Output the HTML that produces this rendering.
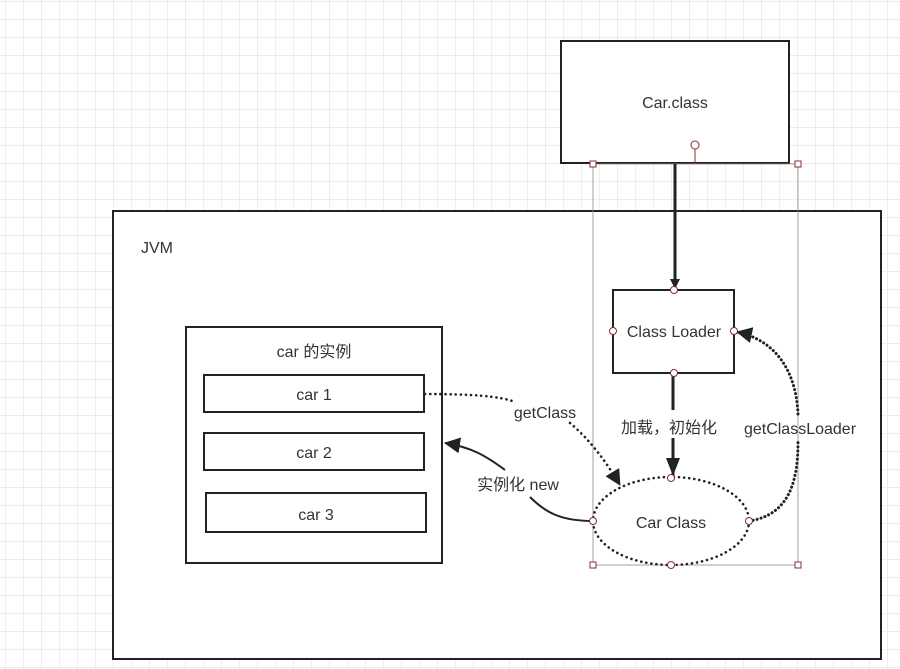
<!DOCTYPE html>
<html><head><meta charset="utf-8"><style>
html,body{margin:0;padding:0;background:#fff}
svg{display:block}
text{font-family:"Liberation Sans","Noto Sans CJK SC",sans-serif;font-size:16px;fill:#333}
</style></head><body>
<svg width="900" height="669" viewBox="0 0 900 669" xmlns="http://www.w3.org/2000/svg">
<defs>
<pattern id="g" x="5" y="1" width="18" height="18" patternUnits="userSpaceOnUse">
<path d="M0 0V18M0 0H18" stroke="#e2e2e2" stroke-width="1.2" fill="none"/>
</pattern>
<marker id="a" markerWidth="10" markerHeight="10" refX="9" refY="5" orient="auto" markerUnits="userSpaceOnUse" viewBox="0 0 10 10">
<path d="M0 0L10 5L0 10z" fill="#222"/></marker>
<marker id="b" markerWidth="16" markerHeight="16" refX="15" refY="8" orient="auto" markerUnits="userSpaceOnUse" viewBox="0 0 16 16">
<path d="M0 0L16 8L0 16z" fill="#222"/></marker>
</defs>
<rect width="900" height="669" fill="url(#g)"/>
<g fill="#fff" stroke="#222" stroke-width="2">
<rect x="113" y="211" width="768" height="448"/>
<rect x="561" y="41" width="228" height="122"/>
<rect x="613" y="290" width="121" height="83"/>
<rect x="186" y="327" width="256" height="236"/>
<rect x="204" y="375" width="220" height="37"/>
<rect x="204" y="433" width="220" height="37"/>
<rect x="206" y="493" width="220" height="39"/>
</g>
<rect x="593" y="164" width="205" height="401" fill="none" stroke="#a08080" stroke-width="0.8"/>
<ellipse cx="671" cy="521" rx="78" ry="44" fill="#fff" stroke="#222" stroke-width="2.6" stroke-dasharray="0.1 5" stroke-linecap="round"/>
<text x="675" y="108" text-anchor="middle">Car.class</text>
<text x="141" y="253">JVM</text>
<text x="674" y="337" text-anchor="middle">Class Loader</text>
<text x="314" y="357" text-anchor="middle">car 的实例</text>
<text x="314" y="400" text-anchor="middle">car 1</text>
<text x="314" y="458" text-anchor="middle">car 2</text>
<text x="316" y="520" text-anchor="middle">car 3</text>
<text x="671" y="528" text-anchor="middle">Car Class</text>
<path d="M695 149V163" stroke="#803030" stroke-width="1"/>
<path d="M675 164V288" stroke="#222" stroke-width="3" fill="none" marker-end="url(#a)"/>
<path d="M673 374V410M673 438V476" stroke="#222" stroke-width="3" fill="none"/>
<path d="M673 458L666 458L673 476L680 458z" fill="#222"/>
<text x="669" y="433" text-anchor="middle">加载，初始化</text>
<path d="M425 394C470 394 500 396 515 402" stroke="#222" stroke-width="2.6" stroke-dasharray="0.1 5" stroke-linecap="round" fill="none"/>
<path d="M570 423C590 440 605 460 620 485" stroke="#222" stroke-width="2.6" stroke-dasharray="0.1 5" stroke-linecap="round" fill="none" marker-end="url(#b)"/>
<text x="545" y="418" text-anchor="middle">getClass</text>
<path d="M593 521C560 521 545 512 530 497" stroke="#222" stroke-width="2" fill="none"/>
<path d="M505 470C485 455 470 447 445 443" stroke="#222" stroke-width="2" fill="none" marker-end="url(#b)"/>
<text x="518" y="490" text-anchor="middle">实例化 new</text>
<path d="M749 521C790 515 798 480 798 442" stroke="#222" stroke-width="3" stroke-dasharray="0.1 4" stroke-linecap="round" fill="none"/>
<path d="M798 414C796 370 775 340 737 332" stroke="#222" stroke-width="3" stroke-dasharray="0.1 4" stroke-linecap="round" fill="none" marker-end="url(#b)"/>
<text x="800" y="434" text-anchor="middle">getClassLoader</text>
<g fill="#fff" stroke="#803030" stroke-width="1">
<circle cx="695" cy="145" r="4"/>
<circle cx="674" cy="290" r="3.5"/><circle cx="613" cy="331" r="3.5"/><circle cx="734" cy="331" r="3.5"/><circle cx="674" cy="373" r="3.5"/>
<circle cx="671" cy="478" r="3.5"/><circle cx="593" cy="521" r="3.5"/><circle cx="749" cy="521" r="3.5"/><circle cx="671" cy="565" r="3.5"/>
<rect x="590" y="161" width="6" height="6"/><rect x="795" y="161" width="6" height="6"/>
<rect x="590" y="562" width="6" height="6"/><rect x="795" y="562" width="6" height="6"/>
</g>
</svg>
</body></html>
